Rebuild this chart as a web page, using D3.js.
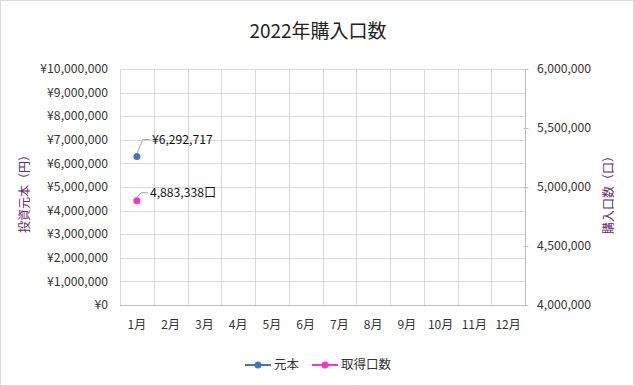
<!DOCTYPE html>
<html>
<head>
<meta charset="utf-8">
<script src="https://cdn.jsdelivr.net/npm/d3@7"></script>
<style>
  html, body { margin: 0; padding: 0; background: #fff; }
  svg { display: block; }
  text { font-family: "Noto Sans CJK JP", "Noto Sans", sans-serif; }
</style>
</head>
<body>
<svg id="chart" width="634" height="386"></svg>
<script>
// Monthly categories
const months = ["1月","2月","3月","4月","5月","6月","7月","8月","9月","10月","11月","12月"];
// Principal invested (yen), only January recorded so far
const principal = [6292717, null, null, null, null, null, null, null, null, null, null, null];
// Units purchased, only January recorded so far
const units = [4883338, null, null, null, null, null, null, null, null, null, null, null];
// Axis tick values
const leftTicks = [0,1000000,2000000,3000000,4000000,5000000,6000000,7000000,8000000,9000000,10000000];
const rightTicks = [4000000,4500000,5000000,5500000,6000000];

const colPrincipal = "#4472c4";
const colUnits = "#ff33cc";
const gridCol = "#d9d9d9";
const textCol = "#333333";
const titleAxisCol = "#5e2d6e";

const svg = d3.select("#chart");
const W = 634, H = 386;
const m = { left: 120, right: 109, top: 69, bottom: 81 };
const pw = W - m.left - m.right, ph = H - m.top - m.bottom;

// Outer border
svg.append("rect").attr("x", 0.5).attr("y", 0.5).attr("width", W - 1).attr("height", H - 1)
  .attr("fill", "#fff").attr("stroke", "#d9d9d9");

// Title
svg.append("text").attr("x", 318).attr("y", 38).attr("text-anchor", "middle")
  .attr("font-size", 19).attr("fill", "#222").text("2022年購入口数");

const x = d3.scaleBand().domain(months).range([m.left, m.left + pw]);
const yL = d3.scaleLinear().domain([0, 10000000]).range([m.top + ph, m.top]);
const yR = d3.scaleLinear().domain([4000000, 6000000]).range([m.top + ph, m.top]);

const g = svg.append("g");

// Horizontal gridlines
g.selectAll("line.hg").data(leftTicks).join("line")
  .attr("x1", m.left).attr("x2", m.left + pw)
  .attr("y1", d => Math.round(yL(d)) + 0.5).attr("y2", d => Math.round(yL(d)) + 0.5)
  .attr("stroke", gridCol);

// Vertical gridlines at category boundaries
const bounds = months.map(mo => x(mo)).concat([m.left + pw]);
g.selectAll("line.vg").data(bounds).join("line")
  .attr("x1", d => Math.round(d) + 0.5).attr("x2", d => Math.round(d) + 0.5)
  .attr("y1", m.top).attr("y2", m.top + ph)
  .attr("stroke", gridCol);

// Bottom axis line
g.append("line").attr("x1", m.left).attr("x2", m.left + pw)
  .attr("y1", Math.round(yL(0)) + 0.5).attr("y2", Math.round(yL(0)) + 0.5)
  .attr("stroke", "#bfbfbf");

// Right axis line with ticks
const rx = Math.round(m.left + pw) + 0.5;
g.append("line").attr("x1", rx).attr("x2", rx).attr("y1", m.top).attr("y2", m.top + ph).attr("stroke", "#bfbfbf");
g.selectAll("line.rt").data(rightTicks).join("line")
  .attr("x1", rx - 2).attr("x2", rx + 3)
  .attr("y1", d => Math.round(yR(d)) + 0.5).attr("y2", d => Math.round(yR(d)) + 0.5)
  .attr("stroke", "#bfbfbf");

// Left tick labels
const fmtL = d => "¥" + d3.format(",")(d);
svg.append("g").selectAll("text").data(leftTicks).join("text")
  .attr("x", 108).attr("y", d => yL(d)).attr("dy", "0.35em")
  .attr("text-anchor", "end").attr("font-size", 12.2).attr("fill", textCol)
  .text(fmtL);

// Right tick labels
svg.append("g").selectAll("text").data(rightTicks).join("text")
  .attr("x", 537).attr("y", d => yR(d)).attr("dy", "0.35em")
  .attr("text-anchor", "start").attr("font-size", 12.2).attr("fill", textCol)
  .text(d3.format(","));

// Category labels
svg.append("g").selectAll("text").data(months).join("text")
  .attr("x", d => x(d) + x.bandwidth() / 2).attr("y", 325).attr("dy", "0.35em")
  .attr("text-anchor", "middle").attr("font-size", 12).attr("fill", textCol)
  .text(d => d);

// Axis titles
svg.append("text").attr("transform", `translate(25,191) rotate(-90)`)
  .attr("text-anchor", "middle").attr("dy", "0.35em")
  .attr("font-size", 12).attr("fill", titleAxisCol).text("投資元本（円）");
svg.append("text").attr("transform", `translate(609,192) rotate(-90)`)
  .attr("text-anchor", "middle").attr("dy", "0.35em")
  .attr("font-size", 12).attr("fill", titleAxisCol).text("購入口数（口）");

// Series points with leader-lined value labels
function drawSeries(vals, scale, color) {
  const pts = months.map((mo, i) => ({ mo, v: vals[i] })).filter(d => d.v != null);
  const line = d3.line().x(d => x(d.mo) + x.bandwidth() / 2).y(d => scale(d.v));
  svg.append("path").datum(pts).attr("d", line).attr("fill", "none").attr("stroke", color).attr("stroke-width", 2);
  svg.append("g").selectAll("circle").data(pts).join("circle")
    .attr("cx", d => x(d.mo) + x.bandwidth() / 2).attr("cy", d => scale(d.v))
    .attr("r", 3.5).attr("fill", color);
  return pts;
}
const pP = drawSeries(principal, yL, colPrincipal);
const pU = drawSeries(units, yR, colUnits);

function label(pts, scale, dx1, dy1, dx2, txt) {
  pts.forEach(d => {
    const cx = x(d.mo) + x.bandwidth() / 2, cy = scale(d.v);
    svg.append("polyline")
      .attr("points", `${cx},${cy - 3} ${cx + dx1},${cy + dy1} ${cx + dx2},${cy + dy1}`)
      .attr("fill", "none").attr("stroke", "#a6a6a6").attr("stroke-width", 1);
    svg.append("text").attr("x", cx + dx2 + 2).attr("y", cy + dy1).attr("dy", "0.35em")
      .attr("font-size", 12.2).attr("fill", "#111").text(txt(d.v));
  });
}
label(pP, yL, 6, -17, 13, v => "¥" + d3.format(",")(v));
label(pU, yR, 4, -8, 11, v => d3.format(",")(v) + "口");

// Legend
const lg = svg.append("g");
const legendItems = [
  { name: "元本", color: colPrincipal, x0: 245 },
  { name: "取得口数", color: colUnits, x0: 312 }
];
legendItems.forEach(it => {
  lg.append("line").attr("x1", it.x0).attr("x2", it.x0 + 26).attr("y1", 365).attr("y2", 365)
    .attr("stroke", it.color).attr("stroke-width", 2);
  lg.append("circle").attr("cx", it.x0 + 13).attr("cy", 365).attr("r", 3.5).attr("fill", it.color);
  lg.append("text").attr("x", it.x0 + 29).attr("y", 365).attr("dy", "0.35em")
    .attr("font-size", 12.5).attr("fill", textCol).text(it.name);
});
</script>
</body>
</html>
